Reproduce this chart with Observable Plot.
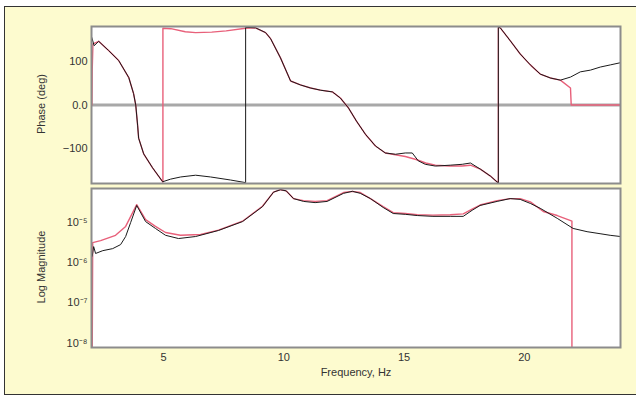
<!DOCTYPE html>
<html><head><meta charset="utf-8">
<script src="https://cdn.jsdelivr.net/npm/d3@7"></script>
<script src="https://cdn.jsdelivr.net/npm/@observablehq/plot@0.6"></script>
<style>
html,body{margin:0;padding:0;background:#fff;}
#wrap{position:absolute;left:4px;top:6px;width:640px;height:389px;background:#fdfbcf;border-left:1.5px solid #333;border-top:1.5px solid #333;border-bottom:1.5px solid #333;box-sizing:border-box;}
#topPanel,#botPanel{position:absolute;left:0;}
#topPanel{top:0;} #botPanel{top:183px;}
.ylab{position:absolute;font:11px "Liberation Sans",Arial,sans-serif;color:#333;transform:rotate(-90deg);transform-origin:center;white-space:nowrap;}
</style></head>
<body>
<div id="wrap"></div>
<div id="topPanel"></div>
<div id="botPanel"></div>
<div class="ylab" id="l1">Phase (deg)</div>
<div class="ylab" id="l2">Log Magnitude</div>
<script>
// Measured phase (black)
const measPhaseFreq = [2.01,2.11,2.30,2.71,3.13,3.55,3.75,3.84,3.92,3.96,4.17,4.54,4.96,5.29,5.71,6.33,6.95,7.78,8.41,8.41,8.82,9.24,9.45,9.86,10.28,10.69,11.11,11.52,12.02,12.35,12.69,13.02,13.39,13.81,14.22,14.64,15.05,15.34,15.59,15.88,16.30,16.92,17.42,17.76,18.17,18.59,18.92,18.92,19.0,19.42,19.83,20.25,20.66,21.08,21.5,21.92,22.33,22.75,23.16,23.58,24.0];
const measPhase     = [155,136,146,125,102,63,26,0,-48,-76,-112,-144,-176,-170,-165,-161,-165,-172,-178,178,177,166,152,108,55,46,39,34,30,16,-7,-37,-67,-94,-110,-113,-110,-110,-128,-136,-140,-138,-136,-133,-147,-163,-179,178,177,147,117,92,71,62,57,64,76,80,87,92,97];
// Fitted phase (red)
const fitPhaseFreq = [2.0,2.02,2.03,2.06,2.30,2.71,3.13,3.55,3.75,3.84,3.92,3.96,4.17,4.54,4.97,4.97,5.3,5.9,6.33,7.0,7.6,8.4,8.82,9.24,9.45,9.86,10.28,10.69,11.11,11.52,12.02,12.35,12.69,13.02,13.39,13.81,14.22,14.64,15.05,15.5,15.9,16.3,16.9,17.4,17.76,18.17,18.59,18.92,18.92,19.0,19.42,19.83,20.25,20.66,21.08,21.5,21.92,21.95,22.5,24.0];
const fitPhase     = [0,0,80,140,146,125,102,63,26,0,-48,-76,-112,-144,-177,176,175,168,166,167,170,176,177,166,152,108,55,46,39,34,30,16,-7,-37,-67,-94,-110,-114,-118,-125,-133,-138,-140,-140,-138,-147,-163,-179,178,177,147,117,92,71,62,57,39,0,0,0];
// Measured log magnitude (black)
const measMagFreq = [2.03,2.09,2.17,2.47,2.88,3.21,3.42,3.63,3.88,4.25,4.66,5.08,5.62,6.33,7.28,8.28,9.11,9.57,9.86,10.1,10.4,10.82,11.3,11.8,12.48,12.85,13.18,13.6,14.13,14.55,15.05,15.55,16.2,16.92,17.46,17.83,18.16,18.87,19.41,19.83,20.25,20.66,21.37,22.03,22.61,23.15,23.57,24.0];
const measLogMag  = [-5.85,-5.61,-5.78,-5.71,-5.66,-5.56,-5.36,-5.01,-4.59,-4.99,-5.16,-5.33,-5.41,-5.36,-5.21,-4.99,-4.62,-4.26,-4.2,-4.23,-4.42,-4.49,-4.52,-4.49,-4.29,-4.24,-4.29,-4.42,-4.64,-4.79,-4.81,-4.84,-4.86,-4.86,-4.86,-4.71,-4.59,-4.49,-4.42,-4.44,-4.54,-4.66,-4.91,-5.16,-5.24,-5.29,-5.33,-5.36];
// Fitted log magnitude (red)
const fitMagFreq = [2.03,2.05,2.38,3.0,3.42,3.88,4.25,4.66,5.08,5.7,6.54,7.28,8.28,9.11,9.57,9.86,10.1,10.4,10.82,11.3,11.8,12.48,12.85,13.18,13.6,14.13,14.55,15.05,15.55,16.2,16.92,17.46,17.83,18.16,18.87,19.41,19.83,20.25,20.79,21.37,21.9,21.98,21.98];
const fitLogMag  = [-8.3,-5.51,-5.46,-5.33,-5.11,-4.57,-4.94,-5.11,-5.26,-5.33,-5.31,-5.2,-4.98,-4.61,-4.26,-4.2,-4.23,-4.42,-4.47,-4.49,-4.47,-4.27,-4.24,-4.27,-4.42,-4.62,-4.77,-4.79,-4.82,-4.83,-4.82,-4.80,-4.68,-4.58,-4.47,-4.42,-4.42,-4.5,-4.74,-4.84,-4.96,-4.98,-8.3];
const freqTicks = [5,10,15,20];
const phaseTicks = [-100,0,100];
const magTicks = [1e-8,1e-7,1e-6,1e-5];

const measP = measPhaseFreq.map((f,i)=>({f, v: measPhase[i]}));
const fitP = fitPhaseFreq.map((f,i)=>({f, v: fitPhase[i]}));
const measM = measMagFreq.map((f,i)=>({f, v: Math.pow(10, measLogMag[i])}));
const fitM = fitMagFreq.map((f,i)=>({f, v: Math.pow(10, fitLogMag[i])}));

const RED = "#e8607a", BLK = "#1a1a1a", FRAME = "#8c8c8c";
const sup = {"-":"⁻","0":"⁰","1":"¹","2":"²","3":"³","4":"⁴","5":"⁵","6":"⁶","7":"⁷","8":"⁸","9":"⁹"};
const font = '11px "Liberation Sans", Arial, sans-serif';

const phasePlot = Plot.plot({
  width: 636, height: 190,
  marginLeft: 91, marginRight: 16, marginTop: 26, marginBottom: 7,
  style: {background: "transparent", font, color: "#333", overflow: "visible"},
  x: {domain: [2, 24], axis: null},
  y: {domain: [-180, 180], ticks: phaseTicks, tickSize: 0, tickPadding: 4,
      tickFormat: d => d === 0 ? "0.0" : (d < 0 ? "\u2212" + Math.abs(d) : String(d)), label: null},
  marks: [
    Plot.frame({fill: "white", stroke: null}),
    Plot.ruleY([0], {stroke: "#a8a8a8", strokeWidth: 3}),
    Plot.line(fitP, {x: "f", y: "v", stroke: RED, strokeWidth: 1.4, clip: true}),
    Plot.line(measP, {x: "f", y: "v", stroke: BLK, strokeWidth: 1, clip: true}),
    Plot.frame({stroke: FRAME, strokeWidth: 2})
  ]
});
document.getElementById("topPanel").appendChild(phasePlot);

const magPlot = Plot.plot({
  width: 636, height: 215,
  marginLeft: 91, marginRight: 16, marginTop: 5, marginBottom: 51,
  style: {background: "transparent", font, color: "#333", overflow: "visible"},
  x: {domain: [2, 24], ticks: freqTicks, tickSize: 0, tickPadding: 6, label: null},
  y: {type: "log", domain: [Math.pow(10,-8.11), Math.pow(10,-4.17)], ticks: magTicks, tickSize: 0, tickPadding: 4,
      tickFormat: d => "10" + String(Math.round(Math.log10(d))).split("").map(c => sup[c]).join(""), label: null},
  marks: [
    Plot.frame({fill: "white", stroke: null}),
    Plot.line(fitM, {x: "f", y: "v", stroke: RED, strokeWidth: 1.4, clip: true}),
    Plot.line(measM, {x: "f", y: "v", stroke: BLK, strokeWidth: 1, clip: true}),
    Plot.frame({stroke: FRAME, strokeWidth: 2}),
    Plot.text(["Frequency, Hz"], {frameAnchor: "bottom", dy: 28, fill: "#333", fontSize: 11})
  ]
});
document.getElementById("botPanel").appendChild(magPlot);

const l1 = document.getElementById("l1"), l2 = document.getElementById("l2");
function place(el, cx, cy){ const w = el.offsetWidth, h = el.offsetHeight; el.style.left = (cx - w/2) + "px"; el.style.top = (cy - h/2) + "px"; }
place(l1, 41, 104);
place(l2, 41, 267);
</script>
</body></html>
